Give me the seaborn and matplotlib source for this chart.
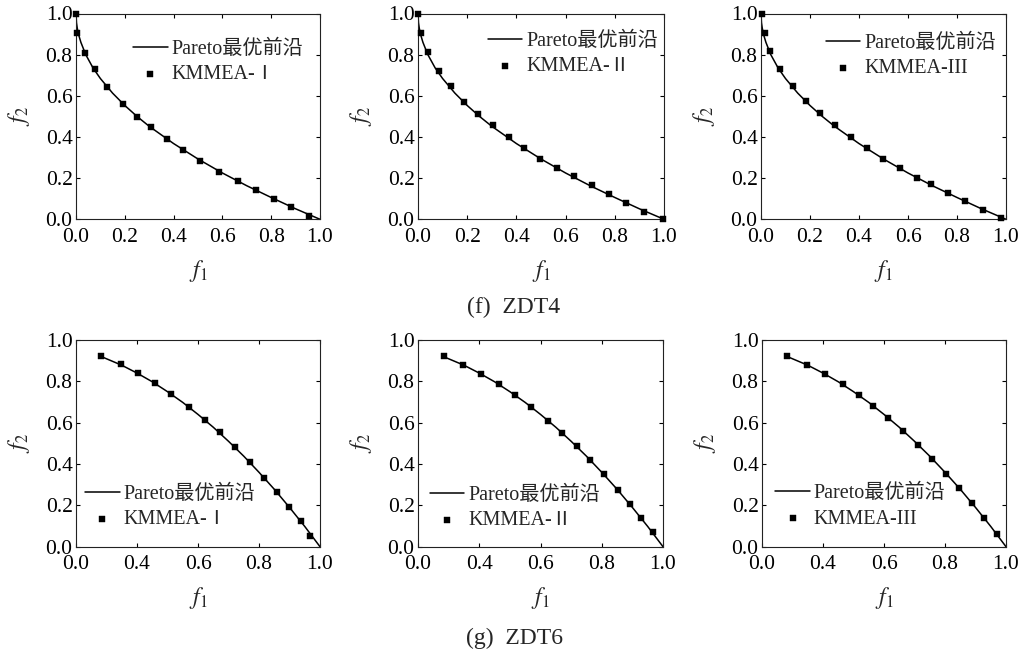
import matplotlib
matplotlib.use("Agg")
import matplotlib.pyplot as plt
import seaborn as sns
import pandas as pd

sns.set_style("ticks")
plt.rcParams['font.family'] = ['Liberation Serif', 'Noto Sans CJK SC']
plt.rcParams['mathtext.fontset'] = 'stix'
plt.rcParams['axes.linewidth'] = 0.8
plt.rcParams['axes.edgecolor'] = '#222222'

# ---- data ----
front_label = 'Pareto最优前沿'
algo_names = ['KMMEA-Ⅰ', 'KMMEA-Ⅱ', 'KMMEA-III']

# ZDT4 true front
zdt4_front_f1 = [0.0, 0.002, 0.005, 0.01, 0.02, 0.04, 0.07, 0.10, 0.15, 0.20, 0.25, 0.30,
                 0.40, 0.50, 0.60, 0.70, 0.80, 0.90, 1.0]
zdt4_front_f2 = [1.0, 0.955, 0.93, 0.90, 0.86, 0.80, 0.735, 0.684, 0.613, 0.553, 0.50, 0.452,
                 0.368, 0.293, 0.225, 0.163, 0.106, 0.051, 0.0]

# ZDT4 obtained solutions
zdt4_k1_f1 = [0.0, 0.005, 0.035, 0.076, 0.125, 0.191, 0.248, 0.307, 0.372, 0.439, 0.510,
              0.588, 0.662, 0.737, 0.810, 0.881, 0.955]
zdt4_k1_f2 = [1.0, 0.903, 0.809, 0.728, 0.644, 0.560, 0.495, 0.447, 0.390, 0.335, 0.283,
              0.230, 0.186, 0.141, 0.099, 0.058, 0.016]
zdt4_k2_f1 = [0.0, 0.013, 0.039, 0.084, 0.133, 0.188, 0.242, 0.303, 0.368, 0.430, 0.496,
              0.567, 0.633, 0.706, 0.775, 0.846, 0.920, 0.995]
zdt4_k2_f2 = [1.0, 0.906, 0.811, 0.722, 0.649, 0.571, 0.511, 0.456, 0.399, 0.347, 0.295,
              0.251, 0.211, 0.166, 0.123, 0.078, 0.036, 0.0]
zdt4_k3_f1 = [0.003, 0.016, 0.037, 0.078, 0.129, 0.185, 0.241, 0.301, 0.366, 0.434, 0.499,
              0.566, 0.638, 0.693, 0.762, 0.834, 0.907, 0.981]
zdt4_k3_f2 = [1.0, 0.906, 0.817, 0.730, 0.647, 0.576, 0.515, 0.456, 0.398, 0.345, 0.294,
              0.248, 0.202, 0.170, 0.129, 0.087, 0.047, 0.008]

# ZDT6 true front
zdt6_front_f1 = [0.281, 0.35, 0.40, 0.45, 0.50, 0.55, 0.60, 0.65, 0.70, 0.75, 0.80, 0.85,
                 0.90, 0.95, 1.0]
zdt6_front_f2 = [0.921, 0.878, 0.840, 0.798, 0.750, 0.698, 0.640, 0.578, 0.510, 0.438,
                 0.360, 0.278, 0.190, 0.098, 0.0]

# ZDT6 obtained solutions
zdt6_k1_f1 = [0.282, 0.347, 0.402, 0.459, 0.513, 0.570, 0.624, 0.673, 0.722, 0.771, 0.818,
              0.858, 0.898, 0.938, 0.968]
zdt6_k1_f2 = [0.922, 0.882, 0.842, 0.791, 0.737, 0.677, 0.612, 0.553, 0.484, 0.408, 0.334,
              0.265, 0.193, 0.122, 0.050]
zdt6_k2_f1 = [0.284, 0.348, 0.406, 0.464, 0.518, 0.568, 0.624, 0.669, 0.718, 0.761, 0.806,
              0.852, 0.892, 0.929, 0.967]
zdt6_k2_f2 = [0.921, 0.879, 0.835, 0.786, 0.732, 0.677, 0.610, 0.552, 0.485, 0.421, 0.350,
              0.276, 0.208, 0.140, 0.070]
zdt6_k3_f1 = [0.282, 0.347, 0.407, 0.465, 0.517, 0.563, 0.614, 0.663, 0.713, 0.758, 0.804,
              0.847, 0.887, 0.927, 0.970]
zdt6_k3_f2 = [0.921, 0.880, 0.834, 0.786, 0.733, 0.683, 0.623, 0.560, 0.492, 0.426, 0.354,
              0.283, 0.213, 0.141, 0.063]

top_ticks = [0.0, 0.2, 0.4, 0.6, 0.8, 1.0]
top_ticklabels = ['0.0', '0.2', '0.4', '0.6', '0.8', '1.0']
bottom_xticks = [0.2, 0.4, 0.6, 0.8, 1.0]
bottom_xticklabels = ['0.0', '0.4', '0.6', '0.8', '1.0']
y_ticks = [0.0, 0.2, 0.4, 0.6, 0.8, 1.0]
y_ticklabels = ['0.0', '0.2', '0.4', '0.6', '0.8', '1.0']

captions = ['(f)  ZDT4', '(g)  ZDT6']

fig = plt.figure(figsize=(10.22, 6.56), dpi=100)
W, H = 1022.0, 656.0


def make_axes(x0, x1, y_top, y_bot):
    return fig.add_axes([x0 / W, 1 - y_bot / H, (x1 - x0) / W, (y_bot - y_top) / H])


def draw_panel(ax, front_x, front_y, sol_x, sol_y, name, xlim, xticks, xticklabels, leg_xy):
    front = pd.DataFrame({'f1': front_x, 'f2': front_y})
    sols = pd.DataFrame({'f1': sol_x, 'f2': sol_y})
    sns.lineplot(data=front, x='f1', y='f2', ax=ax, color='black', lw=1.1,
                 sort=False, estimator=None, label=front_label)
    sns.scatterplot(data=sols, x='f1', y='f2', ax=ax, color='black', marker='s',
                    s=24, edgecolor='black', linewidth=0.3, label=name, clip_on=False, zorder=5)
    ax.set_xlim(*xlim)
    ax.set_ylim(0, 1)
    ax.set_xticks(xticks)
    ax.set_xticklabels(xticklabels)
    ax.set_yticks(y_ticks)
    ax.set_yticklabels(y_ticklabels)
    ax.tick_params(direction='in', length=3, width=0.8, top=True, right=True,
                   labelsize=15.5, colors='black')
    ax.tick_params(axis='x', pad=6)
    ax.tick_params(axis='y', pad=2.5)
    ax.set_xlabel('$f_1$', fontsize=17, labelpad=8)
    ax.set_ylabel('$f_2$', fontsize=17, labelpad=10)
    for sp in ax.spines.values():
        sp.set_visible(True)
    ax.legend(loc='center left', bbox_to_anchor=leg_xy, frameon=False, fontsize=14.5,
              borderpad=0, borderaxespad=0, handlelength=1.7, handletextpad=0.2,
              labelspacing=0.3)


top_axes = [make_axes(76, 320, 13.5, 219.3),
            make_axes(418, 664, 13.5, 219.3),
            make_axes(761, 1006, 13.5, 219.3)]
bot_axes = [make_axes(76, 320, 340, 546.7),
            make_axes(418, 663, 340, 546.7),
            make_axes(762, 1006, 340, 546.7)]

zdt4_sols = [(zdt4_k1_f1, zdt4_k1_f2), (zdt4_k2_f1, zdt4_k2_f2), (zdt4_k3_f1, zdt4_k3_f2)]
zdt6_sols = [(zdt6_k1_f1, zdt6_k1_f2), (zdt6_k2_f1, zdt6_k2_f2), (zdt6_k3_f1, zdt6_k3_f2)]
top_leg = [(0.235, 0.764), (0.284, 0.804), (0.264, 0.795)]
bot_leg = [(0.038, 0.193), (0.048, 0.187), (0.055, 0.195)]

for i in range(3):
    draw_panel(top_axes[i], zdt4_front_f1, zdt4_front_f2, zdt4_sols[i][0], zdt4_sols[i][1],
               algo_names[i], (0, 1), top_ticks, top_ticklabels, top_leg[i])
    draw_panel(bot_axes[i], zdt6_front_f1, zdt6_front_f2, zdt6_sols[i][0], zdt6_sols[i][1],
               algo_names[i], (0.2, 1.0), bottom_xticks, bottom_xticklabels, bot_leg[i])

fig.text(514 / W, 1 - 307 / H, captions[0], ha='center', va='center', fontsize=17)
fig.text(514 / W, 1 - 638 / H, captions[1], ha='center', va='center', fontsize=17)

fig.savefig('out.png', dpi=100, facecolor='white')
